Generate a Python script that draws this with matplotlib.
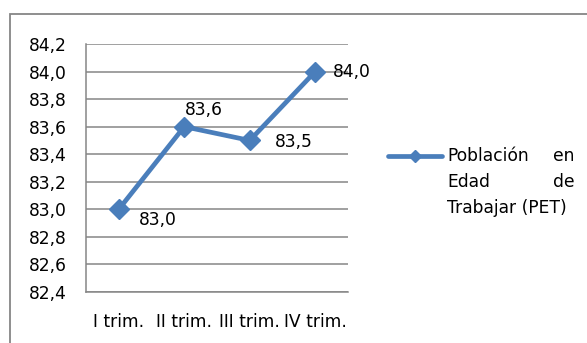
import matplotlib.pyplot as plt
from matplotlib.lines import Line2D
from matplotlib.patches import Rectangle

# datos trimestrales de la PET
trimestres = ['I trim.', 'II trim.', 'III trim.', 'IV trim.']
pet = [83.0, 83.6, 83.5, 84.0]
etiquetas = ['83,0', '83,6', '83,5', '84,0']
# desplazamiento de cada etiqueta (pixeles)
desp = [(39, -11), (20, 17), (44, -2), (37, 0)]
yticks = [82.4, 82.6, 82.8, 83.0, 83.2, 83.4, 83.6, 83.8, 84.0, 84.2]

azul = '#4a7ebb'
gris = '#868686'
fs = 12.3

plt.rcParams['font.family'] = 'DejaVu Sans'
fig = plt.figure(figsize=(5.87, 3.43), dpi=100)
W, H = 587, 343

# marco exterior
fig.add_artist(Rectangle((10 / W, -0.1), 1.0, 1 - 14 / H + 0.1,
                         transform=fig.transFigure, fill=False,
                         edgecolor=gris, linewidth=1.3))

ax = fig.add_axes([86 / W, 1 - 292 / H, 262 / W, 248 / H])
x = list(range(len(trimestres)))
ax.plot(x, pet, color=azul, linewidth=3.4, marker='D', markersize=10,
        markerfacecolor=azul, markeredgecolor=azul, zorder=3)

for xi, yi, lab, (dx, dy) in zip(x, pet, etiquetas, desp):
    ax.annotate(lab, (xi, yi), xytext=(dx, dy), textcoords='offset pixels',
                ha='center', va='center', fontsize=fs, color='black')

ax.set_xlim(-0.5, 3.5)
ax.set_ylim(82.4, 84.2)
ax.set_yticks(yticks)
ax.set_yticklabels([f'{v:.1f}'.replace('.', ',') for v in yticks], fontsize=fs)
ax.set_xticks(x)
ax.set_xticklabels(trimestres, fontsize=fs)
ax.tick_params(axis='both', length=0)
ax.tick_params(axis='y', pad=14)
ax.tick_params(axis='x', pad=15)
ax.grid(axis='y', color=gris, linewidth=1.1)
ax.set_axisbelow(True)
for s in ['top', 'right']:
    ax.spines[s].set_visible(False)
for s in ['left', 'bottom']:
    ax.spines[s].set_color(gris)
    ax.spines[s].set_linewidth(1.1)

# leyenda
fig.add_artist(Line2D([388 / W, 442 / W], [1 - 156 / H, 1 - 156 / H],
                      transform=fig.transFigure, color=azul, linewidth=3.4,
                      solid_capstyle='round'))
fig.add_artist(Line2D([415 / W], [1 - 156 / H], transform=fig.transFigure,
                      marker='D', markersize=6, color=azul))
filas = [('Población', 'en', 156), ('Edad', 'de', 182), ('Trabajar (PET)', '', 208)]
for izq, der, yy in filas:
    fig.text(447 / W, 1 - yy / H, izq, ha='left', va='center', fontsize=fs)
    if der:
        fig.text(574 / W, 1 - yy / H, der, ha='right', va='center', fontsize=fs)

fig.savefig('out.png', dpi=100)
